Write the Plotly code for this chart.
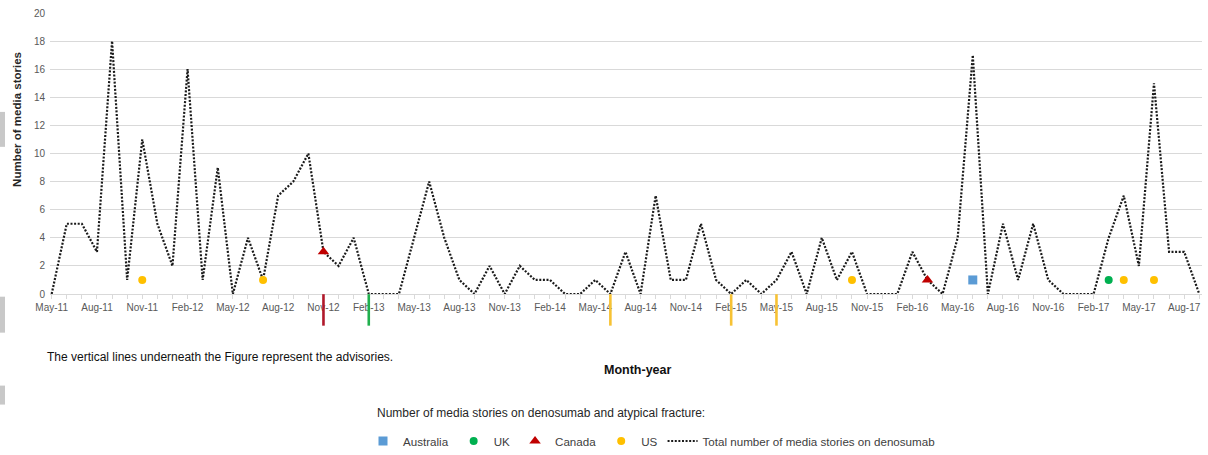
import pandas as pd
import plotly.graph_objects as go

# ---------------- data ----------------
months = list(pd.date_range("2011-05-01", "2017-09-01", freq="MS").strftime("%b-%y"))

total_stories = [0, 5, 5, 3, 18, 1, 11, 5, 2, 16,
                 1, 9, 0, 4, 1, 7, 8, 10, 3, 2,
                 4, 0, 0, 0, 4, 8, 4, 1, 0, 2,
                 0, 2, 1, 1, 0, 0, 1, 0, 3, 0,
                 7, 1, 1, 5, 1, 0, 1, 0, 1, 3,
                 0, 4, 1, 3, 0, 0, 0, 3, 1, 0,
                 4, 17, 0, 5, 1, 5, 1, 0, 0, 0,
                 4, 7, 2, 15, 3, 3, 0]

australia_months = ["Jun-16"]
australia_values = [1]
uk_months = ["Mar-17"]
uk_values = [1]
canada_months = ["Nov-12", "Mar-16"]
canada_values = [3, 1]
us_months = ["Nov-11", "Jul-12", "Oct-15", "Apr-17", "Jun-17"]
us_values = [1, 1, 1, 1, 1]

advisory_months = ["Nov-12", "Feb-13", "Jun-14", "Feb-15", "May-15"]
advisory_colors = ["#B0182A", "#21B04E", "#F7C234", "#F7C234", "#F7C234"]

tick_labels = months[::3]
y_ticks = [0, 2, 4, 6, 8, 10, 12, 14, 16, 18, 20]

# ---------------- style ----------------
FONT = "Liberation Sans, Arial, sans-serif"
GRID = "#D9D9D9"
TICK_COL = "#595959"
FIG_W, FIG_H = 1208, 455
PLOT_H = 281.3          # plot-area height in px
AXIS_Y = 294.3          # px position of the x axis


def py(px):
    """page pixel row -> paper y"""
    return (AXIS_Y - px) / PLOT_H


def pxx(px):
    """page pixel column -> paper x"""
    return (px - 50) / 1152


fig = go.Figure()

fig.add_trace(go.Scatter(
    x=months, y=total_stories, mode="lines",
    name="Total number of media stories on denosumab",
    line=dict(color="#1a1a1a", width=2.2, dash="2px,1.6px"),
    legendrank=5,
))
fig.add_trace(go.Scatter(
    x=australia_months, y=australia_values, mode="markers", name="Australia",
    marker=dict(symbol="square", size=9, color="#5B9BD5"), legendrank=1,
))
fig.add_trace(go.Scatter(
    x=uk_months, y=uk_values, mode="markers", name="UK",
    marker=dict(symbol="circle", size=8, color="#00B050"), legendrank=2,
))
fig.add_trace(go.Scatter(
    x=canada_months, y=canada_values, mode="markers", name="Canada",
    marker=dict(symbol="triangle-up", size=10, color="#C00000"), legendrank=3,
))
fig.add_trace(go.Scatter(
    x=us_months, y=us_values, mode="markers", name="US",
    marker=dict(symbol="circle", size=8, color="#FFC000"), legendrank=4,
))

ticktext = [m if m in tick_labels else "" for m in months]

fig.update_xaxes(
    type="category", categoryorder="array", categoryarray=months,
    range=[-0.11, 76.18],
    tickmode="array", tickvals=months, ticktext=ticktext,
    tickangle=0, automargin=False,
    ticks="outside", ticklen=4, tickcolor=GRID, tickwidth=1,
    showline=True, linecolor=GRID, linewidth=1,
    showgrid=False, zeroline=False,
    tickfont=dict(family=FONT, size=10, color=TICK_COL),
)
fig.update_yaxes(
    range=[0, 20], tickmode="array", tickvals=y_ticks,
    showgrid=True, gridcolor=GRID, gridwidth=1, automargin=False,
    zeroline=False, showline=False, ticks="",
    tickfont=dict(family=FONT, size=10, color=TICK_COL),
    ticklabelstandoff=4,
)

annotations = [
    dict(text="<b>Number of media stories</b>", textangle=-90,
         xref="paper", yref="paper", x=pxx(17), y=py(120),
         xanchor="center", yanchor="middle", showarrow=False,
         font=dict(family=FONT, size=11.5, color="#262626")),
    dict(text="The vertical lines underneath the Figure represent the advisories.",
         xref="paper", yref="paper", x=pxx(45), y=py(357),
         xanchor="left", yanchor="middle", showarrow=False,
         font=dict(family=FONT, size=12, color="#111111")),
    dict(text="<b>Month-year</b>",
         xref="paper", yref="paper", x=pxx(638), y=py(370),
         xanchor="center", yanchor="middle", showarrow=False,
         font=dict(family=FONT, size=12.5, color="#111111")),
    dict(text="Number of media stories on denosumab and atypical fracture:",
         xref="paper", yref="paper", x=pxx(375), y=py(413),
         xanchor="left", yanchor="middle", showarrow=False,
         font=dict(family=FONT, size=12, color="#262626")),
]

# advisory marks: vertical lines below the axis (x from the category axis)
shapes = [
    dict(type="line", xref="x", yref="paper", x0=m, x1=m,
         y0=py(294.5), y1=py(326),
         line=dict(color=c, width=2.6), layer="above")
    for m, c in zip(advisory_months, advisory_colors)
]

# faint scan marks on the left edge of the original
for y_top, y_bot in [(112, 147), (297, 333), (386, 405)]:
    shapes.append(dict(type="rect", xref="paper", yref="paper",
                       x0=pxx(0), x1=pxx(5), y0=py(y_bot), y1=py(y_top),
                       fillcolor="#C8C8C8", line=dict(width=0), layer="below"))

fig.update_layout(
    width=FIG_W, height=FIG_H,
    margin=dict(l=50, r=6, t=13, b=161, autoexpand=False),
    paper_bgcolor="white", plot_bgcolor="white",
    font=dict(family=FONT, size=11, color="#404040"),
    annotations=annotations,
    shapes=shapes,
    legend=dict(
        orientation="h", x=pxx(363), xanchor="left",
        yref="container", y=(FIG_H - 441) / FIG_H, yanchor="middle",
        font=dict(family=FONT, size=11.6, color="#404040"),
        bgcolor="rgba(0,0,0,0)",
        itemwidth=30,
    ),
    showlegend=True,
)

fig.write_html("out.html")
